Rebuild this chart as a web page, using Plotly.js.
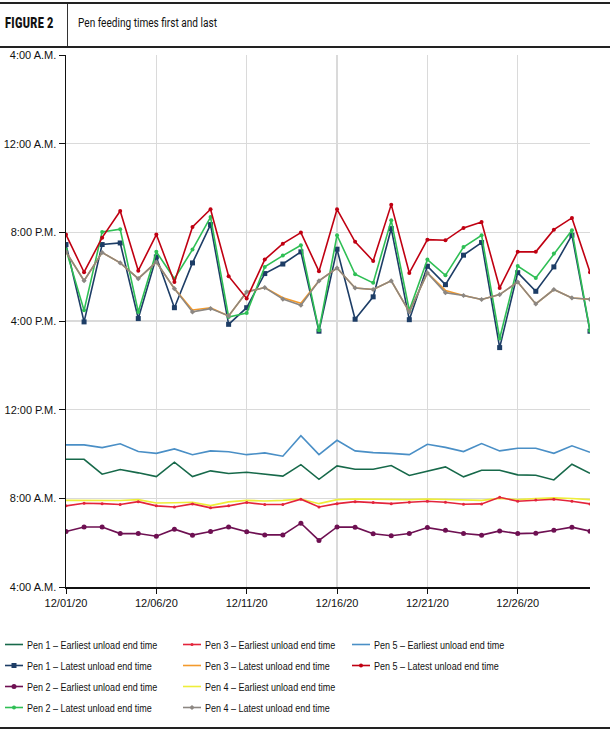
<!DOCTYPE html>
<html>
<head>
<meta charset="utf-8">
<script src="https://cdn.plot.ly/plotly-3.0.1.min.js"></script>
<style>
  html, body { margin: 0; padding: 0; background: #fff; }
  #wrap { position: relative; width: 610px; height: 734px; overflow: hidden; }
  #plot { position: absolute; left: 0; top: 0; width: 610px; height: 734px; }
  #hdr { position: absolute; left: 0; top: 2px; width: 610px; height: 46px;
         border-top: 2px solid #222; border-bottom: 2px solid #222; box-sizing: border-box; z-index: 2; background: transparent; }
  #fig { position: absolute; left: 5px; top: 0; height: 40px; line-height: 38px; font-family: 'Roboto', 'Noto Sans', sans-serif;
         font-weight: 900; font-size: 14px; letter-spacing: 0.4px; color: #111; transform: scaleX(0.78); transform-origin: 0 50%; white-space: nowrap; }
  #sep { position: absolute; left: 67px; top: 0; width: 1px; height: 42px; background: #333; }
  #ttl { position: absolute; left: 78px; top: 0; height: 40px; line-height: 38px; font-family: 'Roboto', 'Noto Sans', sans-serif;
         font-size: 12px; color: #111; transform: scaleX(0.84); transform-origin: 0 50%; white-space: nowrap; }
  #bot { position: absolute; left: 0; top: 727px; width: 610px; height: 2px; background: #222; z-index: 2; }
</style>
</head>
<body>
<div id="wrap">
  <div id="plot"></div>
  <div id="hdr"><div id="fig">FIGURE 2</div><div id="sep"></div><div id="ttl">Pen feeding times first and last</div></div>
  <div id="bot"></div>
</div>
<script>
// Dates (December 2020)
const days = ['2020-12-01','2020-12-02','2020-12-03','2020-12-04','2020-12-05','2020-12-06','2020-12-07','2020-12-08','2020-12-09','2020-12-10',
              '2020-12-11','2020-12-12','2020-12-13','2020-12-14','2020-12-15','2020-12-16','2020-12-17','2020-12-18','2020-12-19','2020-12-20',
              '2020-12-21','2020-12-22','2020-12-23','2020-12-24','2020-12-25','2020-12-26','2020-12-27','2020-12-28','2020-12-29','2020-12-30'];

// Times in hours (4 = 4:00 A.M., 24 = midnight, 28 = 4:00 A.M. next day)
const pen1Earliest = [9.76,9.76,9.09,9.30,9.15,8.98,9.63,8.98,9.24,9.12,9.18,9.09,9.00,9.52,8.86,
                      9.46,9.31,9.31,9.48,9.03,9.21,9.42,8.97,9.27,9.27,9.06,9.04,8.83,9.54,9.13];
const pen1Latest   = [19.45,15.96,19.45,19.52,16.11,18.89,16.60,18.62,20.35,15.85,16.60,18.14,18.57,19.12,15.54,
                      19.24,16.08,17.09,20.17,16.06,18.47,17.64,18.97,19.54,14.80,18.18,17.34,18.44,19.87,15.54];
const pen2Earliest = [6.50,6.71,6.71,6.41,6.41,6.29,6.61,6.34,6.50,6.71,6.49,6.35,6.35,6.88,6.10,
                      6.71,6.70,6.40,6.31,6.41,6.68,6.56,6.41,6.34,6.53,6.41,6.43,6.56,6.70,6.52];
const pen2Latest   = [19.22,16.48,20.02,20.14,16.41,19.12,17.91,19.22,20.69,16.18,16.36,18.44,18.95,19.42,15.58,
                      19.87,18.11,17.72,20.54,16.48,18.77,18.06,19.34,19.87,15.21,18.48,17.94,19.04,20.09,15.56];
const pen3Earliest = [7.66,7.78,7.76,7.72,7.85,7.66,7.61,7.75,7.57,7.66,7.81,7.72,7.72,7.96,7.61,
                      7.76,7.85,7.81,7.76,7.82,7.87,7.82,7.73,7.75,8.05,7.87,7.93,7.96,7.87,7.75];
const pen3Latest   = [19.12,17.82,19.09,18.62,17.91,18.66,17.46,16.50,16.60,16.23,17.31,17.51,17.05,16.80,17.81,
                      18.39,17.49,17.42,17.81,16.41,18.17,17.38,17.15,16.97,17.19,17.76,16.77,17.42,17.04,16.98];
const pen4Earliest = [7.91,7.91,7.91,7.90,7.94,7.79,7.80,7.82,7.67,7.84,7.91,7.88,7.91,7.97,7.76,
                      7.94,7.97,7.96,7.94,7.94,7.97,7.96,7.93,7.91,8.00,7.94,7.99,8.02,7.99,7.94];
const pen4Latest   = [19.12,17.82,19.09,18.62,17.91,18.66,17.46,16.41,16.56,16.23,17.31,17.51,16.99,16.71,17.81,
                      18.39,17.49,17.42,17.81,16.41,18.17,17.28,17.15,16.97,17.19,17.76,16.77,17.42,17.04,16.98];
const pen5Earliest = [10.41,10.41,10.29,10.46,10.11,10.03,10.23,9.97,10.14,10.10,9.97,10.05,9.90,10.83,9.97,
                      10.62,10.14,10.06,10.03,9.97,10.44,10.30,10.11,10.47,10.14,10.26,10.26,10.03,10.37,10.08];
const pen5Latest   = [19.90,18.20,19.76,20.96,18.27,19.90,17.76,20.24,21.04,18.02,17.01,18.77,19.49,19.99,18.24,
                      21.04,19.57,18.71,21.25,18.17,19.67,19.64,20.20,20.47,17.49,19.12,19.12,20.12,20.65,18.20];

const yTickVals = [4, 8, 12, 16, 20, 24, 28];
const yTickText = ['4:00 A.M.', '8:00 A.M.', '12:00 P.M.', '4:00 P.M.', '8:00 P.M.', '12:00 A.M.', '4:00 A.M.'];

const seriesNames = [
  'Pen 1 – Earliest unload end time', 'Pen 1 – Latest unload end time',
  'Pen 2 – Earliest unload end time', 'Pen 2 – Latest unload end time',
  'Pen 3 – Earliest unload end time', 'Pen 3 – Latest unload end time',
  'Pen 4 – Earliest unload end time', 'Pen 4 – Latest unload end time',
  'Pen 5 – Earliest unload end time', 'Pen 5 – Latest unload end time'
];

function tr(name, y, color, legend, rank, marker) {
  const t = { type: 'scatter', mode: marker ? 'lines+markers' : 'lines', name: name, x: days, y: y,
              line: { color: color, width: 1.6 }, legend: legend, legendgroup: name, legendrank: rank };
  if (marker) t.marker = Object.assign({ color: color }, marker);
  return t;
}

const data = [
  tr(seriesNames[0], pen1Earliest, '#17694a', 'legend', 1),
  tr(seriesNames[1], pen1Latest, '#1d3d66', 'legend', 2, { symbol: 'square', size: 5 }),
  tr(seriesNames[2], pen2Earliest, '#6e1052', 'legend', 3, { symbol: 'circle', size: 5 }),
  tr(seriesNames[3], pen2Latest, '#2fbf55', 'legend', 4, { symbol: 'circle', size: 4 }),
  tr(seriesNames[5], pen3Latest, '#f39a2c', 'legend2', 2),
  tr(seriesNames[6], pen4Earliest, '#eeee3a', 'legend2', 3),
  tr(seriesNames[4], pen3Earliest, '#e3243b', 'legend2', 1, { symbol: 'circle', size: 3 }),
  tr(seriesNames[7], pen4Latest, '#8c8782', 'legend2', 4, { symbol: 'diamond', size: 4 }),
  tr(seriesNames[8], pen5Earliest, '#4a8fc6', 'legend3', 1),
  tr(seriesNames[9], pen5Latest, '#c00012', 'legend3', 2, { symbol: 'circle', size: 4 })
];

const L = 66, R = 590, T = 55, B = 587;
const px = v => (v - L) / (R - L);
const py = v => (B - v) / (B - T);
const legFont = { family: "'Liberation Sans', Arial, sans-serif", size: 11, color: '#111' };
function leg(x) {
  return { x: px(x), y: py(630), xanchor: 'left', yanchor: 'top', orientation: 'v', font: legFont,
           bgcolor: 'rgba(0,0,0,0)', borderwidth: 0, tracegroupgap: 2, traceorder: 'grouped', itemwidth: 30 };
}

const layout = {
  width: 610, height: 734,
  margin: { l: L, r: 610 - R, t: T, b: 734 - B, autoexpand: false },
  paper_bgcolor: '#fff', plot_bgcolor: '#fff',
  showlegend: true,
  legend: leg(-12),
  legend2: leg(166),
  legend3: leg(335),
  xaxis: {
    type: 'date', range: ['2020-12-01', '2020-12-30'],
    tick0: '2020-12-01', dtick: 5 * 86400000, tickformat: '%m/%d/%y',
    showgrid: true, gridcolor: '#dadada', gridwidth: 1.4,
    showline: true, linecolor: '#111', linewidth: 1.5,
    ticks: 'outside', ticklen: 5, tickcolor: '#111',
    tickfont: { family: "'Liberation Sans', Arial, sans-serif", size: 11, color: '#111' },
    zeroline: false, fixedrange: true
  },
  yaxis: {
    range: [4, 28], tickvals: yTickVals, ticktext: yTickText,
    showgrid: true, gridcolor: '#dadada', gridwidth: 1.4,
    showline: true, linecolor: '#111', linewidth: 1.5,
    ticks: 'outside', ticklen: 6, tickcolor: '#111',
    tickfont: { family: "'Liberation Sans', Arial, sans-serif", size: 11, color: '#111' },
    zeroline: false, fixedrange: true
  }
};

// Narrow legend look: condense legend text and shorten the legend sample lines
function tidyLegend() {
  const k = 0.82;
  document.querySelectorAll('#plot g.traces text').forEach(t => {
    const x0 = parseFloat(t.getAttribute('x')) || 40;
    t.setAttribute('transform', 'translate(' + (x0 * (1 - k) - 1) + ',0) scale(' + k + ',1)');
  });
  document.querySelectorAll('#plot g.traces path').forEach(p => {
    const d = p.getAttribute('d') || '';
    if (/^M5,0h30/.test(d)) p.setAttribute('d', 'M17,0h18');
    const tf = p.getAttribute('transform') || '';
    if (/translate\(20,\s*0\)/.test(tf)) p.setAttribute('transform', 'translate(26,0)');
  });
}

const gd = document.getElementById('plot');
Plotly.newPlot(gd, data, layout, { displayModeBar: false, staticPlot: true }).then(() => {
  tidyLegend();
  gd.on('plotly_afterplot', tidyLegend);
  setTimeout(tidyLegend, 0);
  setTimeout(tidyLegend, 50);
});
</script>
</body>
</html>
